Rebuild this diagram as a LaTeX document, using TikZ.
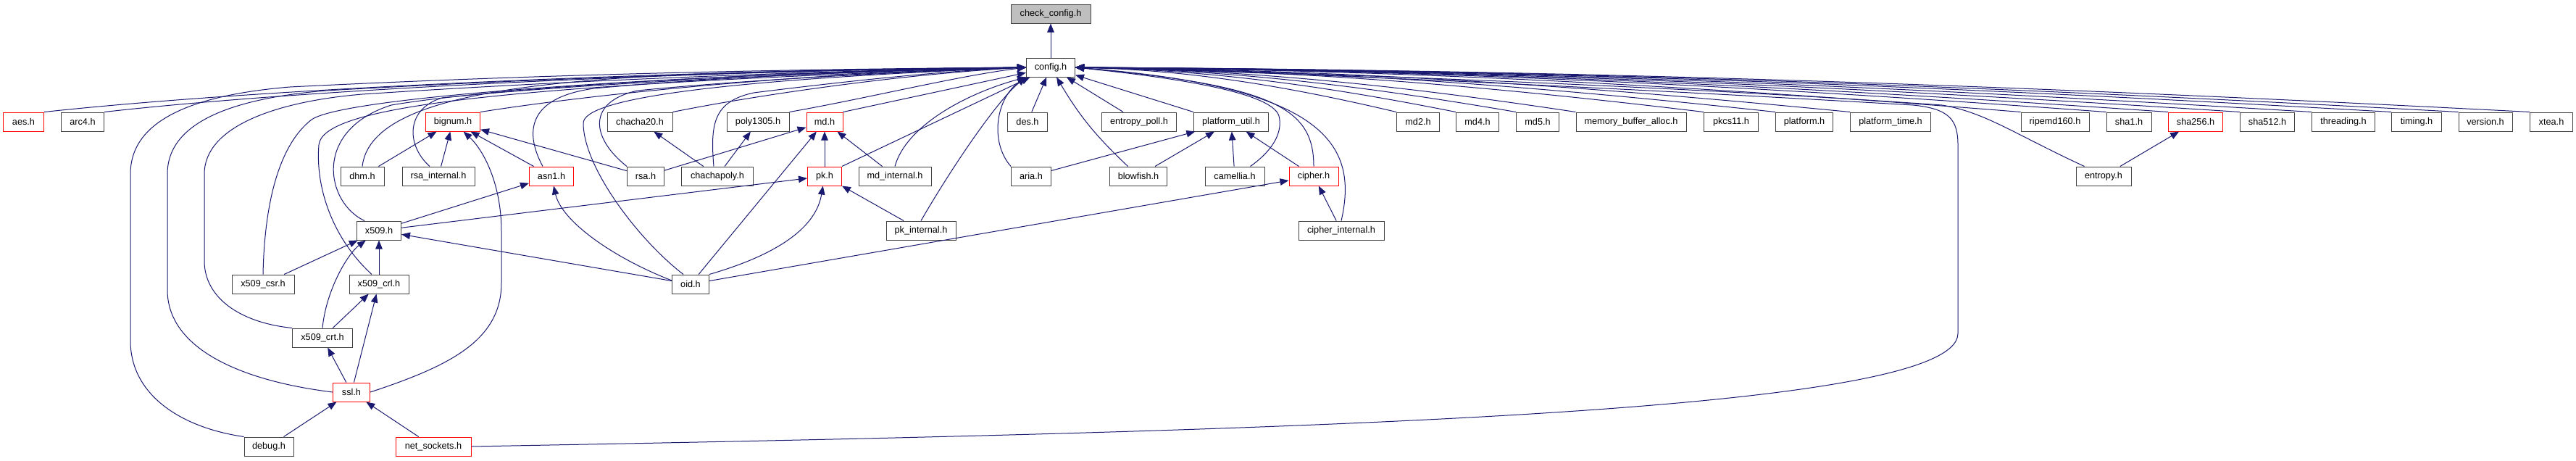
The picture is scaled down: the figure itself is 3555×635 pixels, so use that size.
\documentclass[tikz,border=0pt]{standalone}
\usepackage{fontspec}
\setmainfont{Liberation Sans}
\usetikzlibrary{arrows.meta,calc}

\definecolor{edgeblue}{RGB}{25,25,112}
\definecolor{boxline}{RGB}{64,64,64}
\definecolor{truncred}{RGB}{255,0,0}
\definecolor{rootfill}{RGB}{191,191,191}

\begin{document}
\begin{tikzpicture}[
    x=1pt, y=1pt,
    font=\fontsize{12.7}{15}\selectfont,
    >={Triangle[length=12pt,width=9.5pt]},
    hdr/.style={
        draw=boxline,
        fill=white,
        line width=1pt,
        minimum height=26pt,
        inner sep=1pt
    },
    trunc/.style={hdr, draw=truncred},
    root/.style={hdr, fill=rootfill},
    dep/.style={->, draw=edgeblue, line width=1pt}
]
\useasboundingbox (0,0) rectangle (3555,-635);

% Root and config
\node[root, minimum width=110] (check_config) at (1450,-19) {check\_config.h};
\node[hdr, minimum width=67] (config) at (1450,-93) {config.h};

% Row 2: headers including config.h
\node[trunc, minimum width=56] (aes) at (32.5,-168) {aes.h};
\node[hdr, minimum width=59] (arc4) at (114,-168) {arc4.h};
\node[trunc, minimum width=75] (bignum) at (625,-168) {bignum.h};
\node[hdr, minimum width=90] (chacha20) at (883,-168) {chacha20.h};
\node[hdr, minimum width=86] (poly1305) at (1046,-168) {poly1305.h};
\node[trunc, minimum width=50] (md) at (1138,-168) {md.h};
\node[hdr, minimum width=55] (des) at (1418,-168) {des.h};
\node[hdr, minimum width=103] (entropy_poll) at (1572,-168) {entropy\_poll.h};
\node[hdr, minimum width=103] (platform_util) at (1699,-168) {platform\_util.h};
\node[hdr, minimum width=59] (md2) at (1957,-168) {md2.h};
\node[hdr, minimum width=59] (md4) at (2039,-168) {md4.h};
\node[hdr, minimum width=59] (md5) at (2122,-168) {md5.h};
\node[hdr, minimum width=152] (memory_buffer_alloc) at (2251,-168) {memory\_buffer\_alloc.h};
\node[hdr, minimum width=75] (pkcs11) at (2389,-168) {pkcs11.h};
\node[hdr, minimum width=79] (platform) at (2490,-168) {platform.h};
\node[hdr, minimum width=111] (platform_time) at (2609,-168) {platform\_time.h};
\node[hdr, minimum width=94] (ripemd160) at (2836,-168) {ripemd160.h};
\node[hdr, minimum width=62] (sha1) at (2938,-168) {sha1.h};
\node[trunc, minimum width=75] (sha256) at (3030,-168) {sha256.h};
\node[hdr, minimum width=75] (sha512) at (3129,-168) {sha512.h};
\node[hdr, minimum width=87] (threading) at (3234,-168) {threading.h};
\node[hdr, minimum width=69] (timing) at (3335,-168) {timing.h};
\node[hdr, minimum width=74] (version) at (3430,-168) {version.h};
\node[hdr, minimum width=59] (xtea) at (3521,-168) {xtea.h};

% Row 3
\node[hdr, minimum width=60] (dhm) at (500,-243) {dhm.h};
\node[hdr, minimum width=100] (rsa_internal) at (605,-243) {rsa\_internal.h};
\node[trunc, minimum width=61] (asn1) at (761,-243) {asn1.h};
\node[hdr, minimum width=51] (rsa) at (891,-243) {rsa.h};
\node[hdr, minimum width=99] (chachapoly) at (990,-243) {chachapoly.h};
\node[trunc, minimum width=47] (pk) at (1138,-243) {pk.h};
\node[hdr, minimum width=100] (md_internal) at (1235,-243) {md\_internal.h};
\node[hdr, minimum width=55] (aria) at (1423,-243) {aria.h};
\node[hdr, minimum width=79] (blowfish) at (1571,-243) {blowfish.h};
\node[hdr, minimum width=82] (camellia) at (1704,-243) {camellia.h};
\node[trunc, minimum width=68] (cipher) at (1813,-243) {cipher.h};
\node[hdr, minimum width=76] (entropy) at (2903,-243) {entropy.h};

% Row 4 and below
\node[hdr, minimum width=61] (x509) at (523,-318) {x509.h};
\node[hdr, minimum width=96] (pk_internal) at (1271,-318) {pk\_internal.h};
\node[hdr, minimum width=118] (cipher_internal) at (1851,-318) {cipher\_internal.h};
\node[hdr, minimum width=86] (x509_csr) at (363,-392) {x509\_csr.h};
\node[hdr, minimum width=82] (x509_crl) at (523,-392) {x509\_crl.h};
\node[hdr, minimum width=51] (oid) at (953,-392) {oid.h};
\node[hdr, minimum width=83] (x509_crt) at (445,-466) {x509\_crt.h};
\node[trunc, minimum width=51] (ssl) at (485,-541) {ssl.h};
\node[hdr, minimum width=68] (debug) at (371,-616) {debug.h};
\node[trunc, minimum width=104] (net_sockets) at (598,-616) {net\_sockets.h};

% Connections to config.h
\draw[dep] (config) -- (check_config);

\draw[dep] (aes.north east) .. controls (400,-118) and (1000,-96) .. (config.west);
\draw[dep] (arc4.north east) .. controls (450,-120) and (1000,-97) .. (config.west);
\draw[dep] (bignum.north east) .. controls (850,-125) and (1150,-99) .. (config.west);
\draw[dep] (chacha20.north east) .. controls (1050,-130) and (1250,-102) .. (config.west);
\draw[dep] (poly1305.north east) .. controls (1200,-135) and (1320,-105) .. (config.west);
\draw[dep] (md.north east) -- (config);
\draw[dep] (des) -- (config);
\draw[dep] (entropy_poll) -- (config);
\draw[dep] (platform_util.north west) -- (config);

\foreach \h in {md2,md4,md5,memory_buffer_alloc,pkcs11,platform,platform_time,ripemd160,sha1,sha256,sha512,threading,timing,version,xtea}
    \draw[dep] (\h.north west) .. controls ($(\h.north west)!0.35!(config.east)+(0,15)$) and ($(config.east)!0.35!(\h.north west)+(0,18)$) .. (config.east);

\draw[dep] (dhm.north) .. controls (515,-100) and (900,-100) .. (config.west);
\draw[dep] ([xshift=-12]rsa_internal.north) .. controls (560,-200) and (560,-150) .. (610,-135) .. controls (800,-115) and (1150,-99) .. (config.west);
\draw[dep] ([xshift=-12]asn1.north) .. controls (725,-185) and (725,-135) .. (820,-122) .. controls (1000,-105) and (1250,-96) .. (config.west);
\draw[dep] (rsa.north west) .. controls (815,-190) and (810,-140) .. (880,-125) .. controls (1050,-108) and (1300,-97) .. (config.west);
\draw[dep] ([xshift=-5]chachapoly.north) .. controls (980,-170) and (985,-140) .. (1040,-128) .. controls (1200,-108) and (1320,-97) .. (config.west);
\draw[dep] ([xshift=-10]oid.north) .. controls (880,-330) and (805,-230) .. (805,-170) .. controls (805,-135) and (1000,-110) .. (config.west);
\draw[dep] (pk.north east) -- (config);
\draw[dep] (md_internal.north) .. controls (1250,-175) and (1330,-130) .. (config.south west);
\draw[dep] (pk_internal.north) .. controls (1320,-220) and (1380,-135) .. (config.south west);
\draw[dep] (aria.north west) .. controls (1365,-195) and (1375,-135) .. (config.south west);
\draw[dep] (blowfish) to[bend left=8] (config);
\draw[dep] ([xshift=-20]camellia.north east) .. controls (1760,-205) and (1770,-180) .. (1765,-160) .. controls (1755,-125) and (1600,-105) .. (config.east);
\draw[dep] (cipher.north) .. controls (1813,-150) and (1760,-118) .. (config.east);
\draw[dep] (cipher_internal.north) .. controls (1875,-200) and (1830,-120) .. (config.east);
\draw[dep] ([xshift=12]entropy.north west) .. controls (2780,-185) and (2740,-155) .. (2680,-145) .. controls (2300,-118) and (1800,-100) .. (config.east);

\draw[dep] ([xshift=-20]x509.north) .. controls (450,-280) and (430,-180) .. (540,-145) .. controls (700,-118) and (1100,-98) .. (config.west);
\draw[dep] ([xshift=-10]x509_crl.north) .. controls (460,-330) and (435,-260) .. (440,-200) .. controls (445,-150) and (650,-118) .. (config.west);
\draw[dep] (x509_csr.north) .. controls (365,-280) and (385,-200) .. (430,-165) .. controls (480,-130) and (1000,-100) .. (config.west);
\draw[dep] (x509_crt.north west) .. controls (330,-445) and (282,-410) .. (282,-360) -- (282,-240) .. controls (282,-175) and (380,-140) .. (500,-130) .. controls (800,-110) and (1150,-97) .. (config.west);
\draw[dep] (ssl.west) .. controls (330,-525) and (231,-480) .. (231,-400) -- (231,-240) .. controls (231,-165) and (330,-135) .. (450,-125) .. controls (800,-105) and (1150,-96) .. (config.west);
\draw[dep] (debug.north west) .. controls (250,-590) and (180,-545) .. (180,-470) -- (180,-240) .. controls (180,-160) and (280,-130) .. (400,-120) .. controls (800,-100) and (1150,-95) .. (config.west);
\draw[dep] (net_sockets.east) .. controls (1800,-595) and (2702,-570) .. (2702,-460) -- (2702,-200) .. controls (2702,-165) and (2690,-150) .. (2640,-145) .. controls (2300,-125) and (1800,-100) .. (config.east);

% Other connections
\draw[dep] (dhm) -- (bignum);
\draw[dep] (rsa_internal) -- (bignum);
\draw[dep] (asn1) -- (bignum);
\draw[dep] (rsa) -- (bignum);
\draw[dep] (ssl.east) .. controls (620,-505) and (692,-470) .. (692,-390) -- (692,-320) .. controls (692,-250) and (665,-205) .. (bignum);
\draw[dep] (rsa) -- (md);
\draw[dep] (chachapoly) -- (chacha20);
\draw[dep] (chachapoly) -- (poly1305);
\draw[dep] (pk) -- (md);
\draw[dep] (md_internal) -- (md);
\draw[dep] (oid) -- (md);
\draw[dep] (oid.north east) .. controls (1060,-355) and (1125,-320) .. (pk);
\draw[dep] ([yshift=5]oid.west) .. controls (845,-355) and (775,-305) .. (asn1);
\draw[dep] (oid) -- (x509);
\draw[dep] (oid) -- (cipher);
\draw[dep] (pk_internal) -- (pk);
\draw[dep] (aria) -- (platform_util);
\draw[dep] (blowfish) -- (platform_util);
\draw[dep] (camellia) -- (platform_util);
\draw[dep] (cipher) -- (platform_util);
\draw[dep] (cipher_internal) -- (cipher);
\draw[dep] (entropy) -- (sha256);
\draw[dep] (x509) -- (asn1);
\draw[dep] (x509) -- (pk);
\draw[dep] (x509_csr) -- (x509);
\draw[dep] (x509_crl) -- (x509);
\draw[dep] (x509_crt.north) .. controls (450,-400) and (480,-350) .. (x509);
\draw[dep] (x509_crt) -- (x509_crl);
\draw[dep] (ssl) -- (x509_crt);
\draw[dep] (ssl) -- (x509_crl);
\draw[dep] (debug) -- (ssl);
\draw[dep] (net_sockets) -- (ssl);

\end{tikzpicture}
\end{document}
